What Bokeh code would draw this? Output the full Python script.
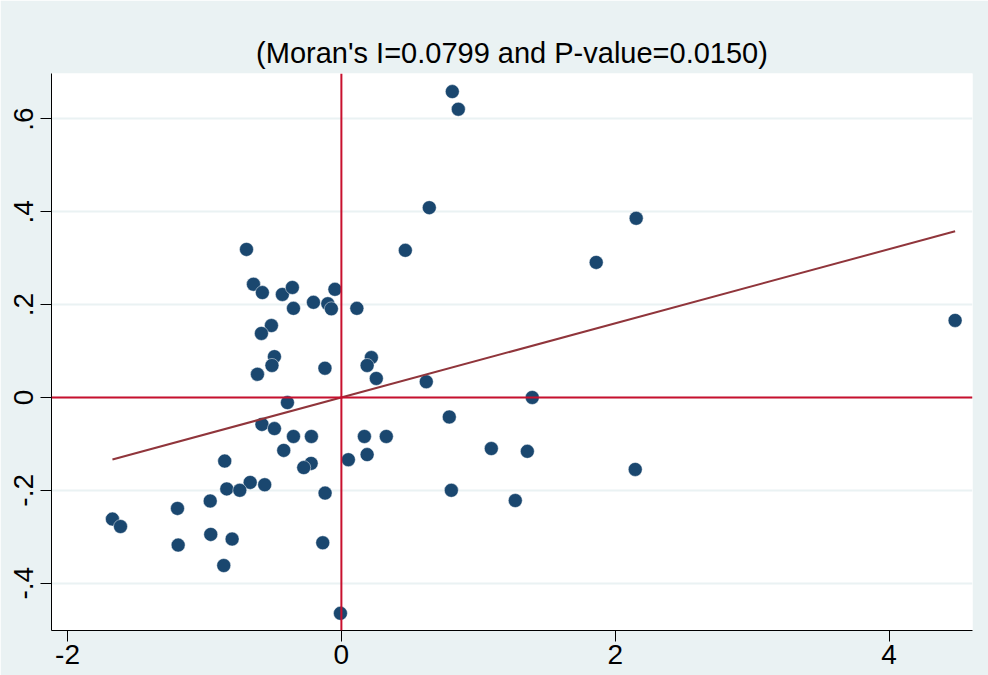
import numpy as np
from bokeh.plotting import figure
from bokeh.models import Span, Range1d, FixedTicker, ColumnDataSource
from bokeh.embed import file_html
from bokeh.resources import INLINE

# standardized variable (x) and its spatial lag (y)
x_vals = [0.810, 0.854, 0.642, 2.153, 0.467, -0.693, 1.861, -0.642, -0.577, -0.431,
          -0.358, -0.350, -0.204, -0.099, -0.073, -0.047, 0.113, -0.511, -0.584, -0.489,
          -0.507, -0.613, -0.120, 0.219, 0.188, 0.255, 0.620, 1.394, -0.394, -0.580,
          -0.489, -0.350, -0.219, 0.168, 0.328, 0.788, 1.095, 1.358, -0.421, 0.051,
          0.188, -0.852, -0.221, -0.275, 2.146, -0.666, -0.560, -0.837, -0.742, 0.803,
          -0.119, -0.958, 1.270, -1.197, -1.672, -1.613, -0.954, -0.798, -1.192, -0.136,
          -0.859, -0.007, 4.482]
y_vals = [0.659, 0.621, 0.409, 0.386, 0.317, 0.319, 0.291, 0.244, 0.226, 0.222,
          0.237, 0.192, 0.205, 0.202, 0.191, 0.233, 0.192, 0.155, 0.138, 0.088,
          0.069, 0.050, 0.063, 0.086, 0.069, 0.041, 0.034, 0.000, -0.011, -0.058,
          -0.067, -0.084, -0.084, -0.084, -0.084, -0.042, -0.110, -0.116, -0.114, -0.134,
          -0.123, -0.137, -0.142, -0.151, -0.155, -0.183, -0.188, -0.197, -0.200, -0.200,
          -0.206, -0.223, -0.222, -0.239, -0.262, -0.278, -0.295, -0.305, -0.318, -0.313,
          -0.362, -0.465, 0.166]

moran_i = 0.0799
p_value = 0.0150

x_ticks = [-2, 0, 2, 4]
x_tick_labels = ["-2", "0", "2", "4"]
y_ticks = [-0.4, -0.2, 0.0, 0.2, 0.4, 0.6]
y_tick_labels = ["-.4", "-.2", "0", ".2", ".4", ".6"]

title_text = "(Moran's I=%.4f and P-value=%.4f)" % (moran_i, p_value)

BG = "#EAF2F3"
NAVY = "#1A476F"
FIT = "#90353B"
REF = "#C8102E"
FONT = "Liberation Sans"

p = figure(width=988, height=675, output_backend="svg", toolbar_location=None,
           x_range=Range1d(-2.117, 4.609), y_range=Range1d(-0.502, 0.698),
           min_border_left=51, min_border_right=16, min_border_top=73, min_border_bottom=45,
           background_fill_color="white", border_fill_color=BG, outline_line_color=None,
           title=title_text)

p.title.align = "center"
p.title.text_font = FONT
p.title.text_font_size = "29px"
p.title.text_font_style = "normal"
p.title.text_color = "black"
p.title.standoff = 10

p.xgrid.visible = False
p.ygrid.ticker = FixedTicker(ticks=y_ticks)
p.ygrid.grid_line_color = BG
p.ygrid.grid_line_width = 2

for ax in (p.xaxis[0], p.yaxis[0]):
    ax.axis_line_color = "black"
    ax.axis_line_width = 1
    ax.major_tick_line_color = "black"
    ax.major_tick_out = 11
    ax.major_tick_in = 0
    ax.minor_tick_line_color = None
    ax.major_label_text_font = FONT
    ax.major_label_text_font_size = "28px"
    ax.major_label_text_color = "black"

p.xaxis[0].ticker = FixedTicker(ticks=x_ticks)
p.xaxis[0].major_label_overrides = {t: l for t, l in zip(x_ticks, x_tick_labels)}
p.xaxis[0].major_label_standoff = 3
p.yaxis[0].ticker = FixedTicker(ticks=y_ticks)
p.yaxis[0].major_label_overrides = {t: l for t, l in zip(y_ticks, y_tick_labels)}
p.yaxis[0].major_label_orientation = "vertical"
p.yaxis[0].major_label_standoff = 7

# reference lines at zero
p.add_layout(Span(location=0, dimension="width", line_color=REF, line_width=2))
p.add_layout(Span(location=0, dimension="height", line_color=REF, line_width=2))

src = ColumnDataSource(data=dict(x=x_vals, y=y_vals))
p.scatter("x", "y", source=src, size=14, marker="circle", fill_color=NAVY,
          line_color="white", line_width=0.6, line_alpha=0.8)

# linear fit line (slope = Moran's I) across the data range
xa = np.array(x_vals)
fx = [float(xa.min()), float(xa.max())]
fy = [moran_i * v for v in fx]
p.line(fx, fy, line_color=FIT, line_width=2)

html = file_html(p, INLINE)
html = html.replace("<body>", '<body style="margin:0;background-color:%s;overflow:hidden;">' % BG, 1)
open("out.html", "w").write(html)
